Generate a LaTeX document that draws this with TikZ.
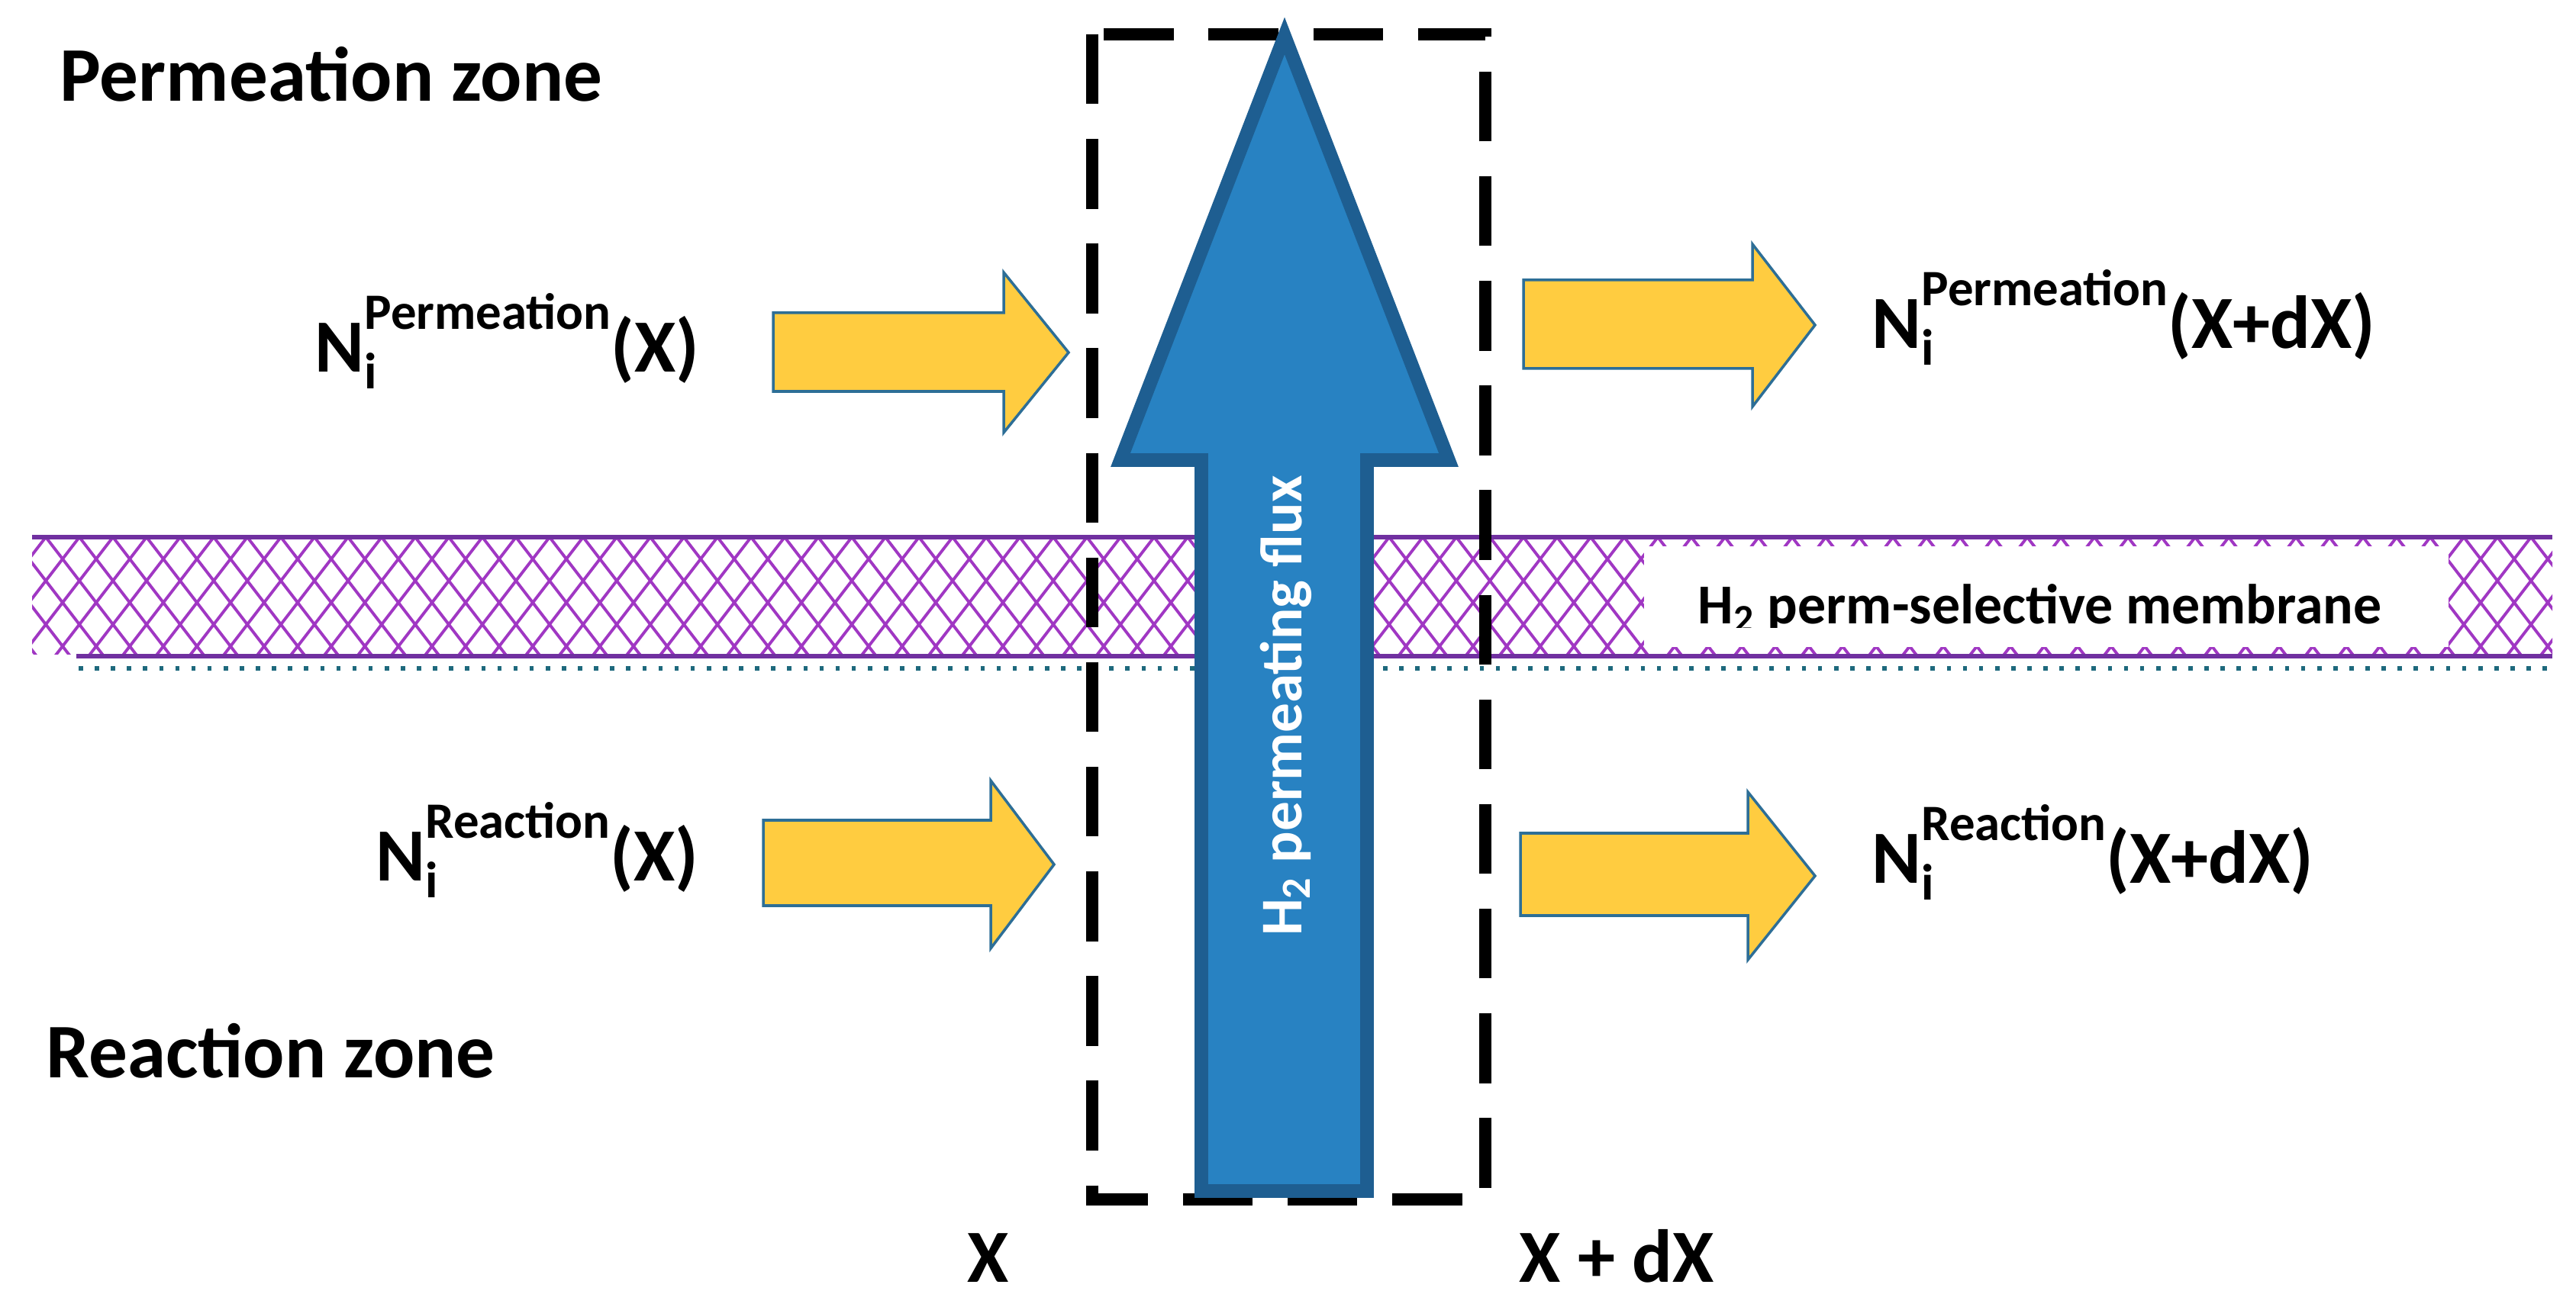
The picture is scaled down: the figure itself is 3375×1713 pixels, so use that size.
\documentclass[tikz,border=0pt]{standalone}
\usepackage{fontspec}
\setmainfont{Carlito}
\usepackage{tikz}
\definecolor{memline}{RGB}{112,48,160}
\definecolor{memhatch}{RGB}{160,55,195}
\definecolor{memdot}{RGB}{30,105,125}
\definecolor{fluxfill}{RGB}{40,130,194}
\definecolor{fluxedge}{RGB}{30,94,145}
\definecolor{flowfill}{RGB}{255,204,64}
\definecolor{flowedge}{RGB}{45,110,150}
\newcommand{\molflux}[2]{N\rlap{\raisebox{-6pt}{\fontsize{19}{22}\selectfont i}}\raisebox{16pt}{\fontsize{19}{22}\selectfont #1}(#2)}

\begin{document}
\begin{tikzpicture}[x=0.01cm,y=-0.01cm,
  lbl/.style={inner sep=0pt,anchor=base west,font=\fontsize{28}{33}\selectfont\bfseries},
  zone/.style={inner sep=0pt,anchor=base west,font=\fontsize{28.8}{34}\selectfont\bfseries},
  flowarrow/.style={fill=flowfill,draw=flowedge,line width=1pt},
  hatchline/.style={draw=memhatch,line width=1.1pt},
  boxline/.style={line width=4.5pt,dash pattern=on 26pt off 13pt}]
  \useasboundingbox[fill=white] (0,0) rectangle (3375,1713);

  \begin{scope}
    \clip (42,706) rectangle (3344,858);
    \foreach \hx in {-160,-116,...,3500} {
      \draw[hatchline] (\hx,704) -- ++(120,156);
      \draw[hatchline] (\hx,704) -- ++(-120,156);
    }
  \end{scope}
  \fill[white] (2154,716) rectangle (3208,848);
  \draw[memline,line width=1.6pt] (42,704) -- (3344,704);
  \draw[memline,line width=1.6pt] (100,860) -- (3344,860);
  \draw[memdot,line width=1.6pt,dash pattern=on 1.6pt off 4.4pt] (103,876) -- (3344,876);
  \begin{scope}
    \clip (2154,716) rectangle (3208,823);
    \node (memlbl) [inner sep=0pt,anchor=base west,font=\fontsize{21}{25}\selectfont\bfseries]
      at (2224,818) {H\textsubscript{2} perm-selective membrane};
  \end{scope}

  \draw[boxline] (1431,45) rectangle (1946,1572);

  \draw[flowarrow] (1013,410) -- (1315,410) -- (1315,357) -- (1400,462) -- (1315,567) -- (1315,513) -- (1013,513) -- cycle;
  \draw[flowarrow] (1996,367) -- (2296,367) -- (2296,320) -- (2378,426) -- (2296,533) -- (2296,483) -- (1996,483) -- cycle;
  \draw[flowarrow] (1000,1075) -- (1298,1075) -- (1298,1023) -- (1381,1133) -- (1298,1243) -- (1298,1187) -- (1000,1187) -- cycle;
  \draw[flowarrow] (1992,1092) -- (2290,1092) -- (2290,1038) -- (2378,1148) -- (2290,1258) -- (2290,1200) -- (1992,1200) -- cycle;

  \draw[fill=fluxfill,draw=fluxedge,line width=5pt] (1574,1561) -- (1574,603) -- (1468,603) -- (1683,47)
    -- (1898,603) -- (1791,603) -- (1791,1561) -- cycle;
  \node (fluxlbl) [rotate=90,text=white,inner sep=0pt,font=\fontsize{22}{26}\selectfont\bfseries]
    at (1685,925) {H\textsubscript{2} permeating flux};

  \node (zperm) [zone] at (78,133) {Permeation zone};
  \node (zreac) [zone] at (60,1412) {Reaction zone};
  \node (nPin) [lbl] at (412,488) {\molflux{Permeation}{X}};
  \node (nPout) [lbl] at (2452,457) {\molflux{Permeation}{X+dX}};
  \node (nRin) [lbl] at (492,1155) {\molflux{Reaction}{X}};
  \node (nRout) [lbl] at (2452,1158) {\molflux{Reaction}{X+dX}};
  \node (xl) [lbl] at (1267,1680) {X};
  \node (xdl) [lbl] at (1990,1680) {X + dX};
\end{tikzpicture}
\end{document}
